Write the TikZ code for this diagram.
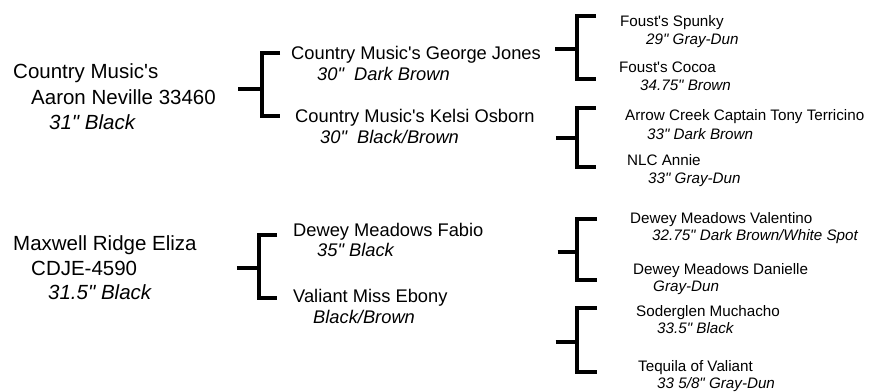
\documentclass[tikz,border=0pt]{standalone}
\usepackage{fontspec}
\setmainfont{Liberation Sans}[Ligatures=TeXOff]
\usepackage{tikz}

\begin{document}
\begin{tikzpicture}[x=1pt, y=-1pt, line join=miter]

\tikzstyle{bigname} = [anchor=west, inner sep=0pt,
                       font=\fontsize{20.5}{24}\selectfont,
                       text height=14.7pt, text depth=0pt]
\tikzstyle{bigcol}  = [bigname, font=\fontsize{20.5}{24}\selectfont\itshape]
\tikzstyle{midname} = [anchor=west, inner sep=0pt,
                       font=\fontsize{18.3}{21}\selectfont,
                       text height=13.1pt, text depth=0pt]
\tikzstyle{midcol}  = [midname, font=\fontsize{18.3}{21}\selectfont\itshape]
\tikzstyle{smname}  = [anchor=west, inner sep=0pt,
                       font=\fontsize{15.2}{18}\selectfont,
                       text height=10.9pt, text depth=0pt]
\tikzstyle{smcol}   = [smname, font=\fontsize{15.2}{18}\selectfont\itshape]
\tikzstyle{bracket} = [line width=3.5pt]

\useasboundingbox (0,0) rectangle (877,391);

% ── Left column: the two horses ───────────────────────
\node[bigname] (aaron1)   at (13,71)  {Country Music's};
\node[bigname] (aaron)    at (31,97)  {Aaron Neville 33460};
\node[bigcol]  (aaronc)   at (49,122) {31" Black};

\node[bigname] (maxwell)  at (13,243) {Maxwell Ridge Eliza};
\node[bigname] (maxwell2) at (31,268) {CDJE-4590};
\node[bigcol]  (maxwellc) at (48,292) {31.5" Black};

% ── Middle column: parents ────────────────────────────
\node[midname] (george)  at (291,53)  {Country Music's George Jones};
\node[midcol]  (georgec) at (317,74)  {30"\ \ Dark Brown};
\node[midname] (kelsi)   at (295,116) {Country Music's Kelsi Osborn};
\node[midcol]  (kelsic)  at (320,137) {30"\ \ Black/Brown};

\node[midname] (fabio)   at (293,230) {Dewey Meadows Fabio};
\node[midcol]  (fabioc)  at (317,250) {35" Black};
\node[midname] (ebony)   at (293,296) {Valiant Miss Ebony};
\node[midcol]  (ebonyc)  at (313,317) {Black/Brown};

% ── Right column: grandparents ────────────────────────
\node[smname] (spunky)     at (620,21)  {Foust's Spunky};
\node[smcol]  (spunkyc)    at (646,39)  {29" Gray-Dun};
\node[smname] (cocoa)      at (619,67)  {Foust's Cocoa};
\node[smcol]  (cocoac)     at (640,85)  {34.75" Brown};
\node[smname] (arrow)      at (625,115) {Arrow Creek Captain Tony Terricino};
\node[smcol]  (arrowc)     at (647,134) {33" Dark Brown};
\node[smname] (annie)      at (627,160) {NLC Annie};
\node[smcol]  (anniec)     at (648,178) {33" Gray-Dun};

\node[smname] (valentino)  at (630,218) {Dewey Meadows Valentino};
\node[smcol]  (valentinoc) at (652,235) {32.75" Dark Brown/White Spot};
\node[smname] (danielle)   at (633,269) {Dewey Meadows Danielle};
\node[smcol]  (daniellec)  at (653,286) {Gray-Dun};
\node[smname] (soderglen)  at (636,311) {Soderglen Muchacho};
\node[smcol]  (soderglenc) at (657,328) {33.5" Black};
\node[smname] (tequila)    at (638,366) {Tequila of Valiant};
\node[smcol]  (tequilac)   at (657,383) {33 5/8" Gray-Dun};

% ── Brackets: horse -> sire and dam ───────────────────
\draw[bracket] ([xshift=-11pt]george.west) -- ++(-18,0) |- ([xshift=-15pt]kelsi.west);
\draw[bracket] (aaron.east) ++(22pt,8pt) -- ++(24,0);

\draw[bracket] ([xshift=-16pt,yshift=-5pt]fabio.west) -- ++(-18,0) |- ([xshift=-16pt,yshift=-2pt]ebony.west);
\draw[bracket] (maxwell.east) ++(40pt,-25pt) -- ++(22,0);

\draw[bracket] ([xshift=-24pt,yshift=5pt]spunky.west) -- ++(-19,0) |- ([xshift=-23pt,yshift=-12pt]cocoa.west);
\draw[bracket] (george.east) ++(14pt,4pt) -- ++(22,0);

\draw[bracket] ([xshift=-29pt,yshift=7pt]arrow.west) -- ++(-19,0) |- ([xshift=-31pt,yshift=-7pt]annie.west);
\draw[bracket] (kelsi.east) ++(21pt,-22pt) -- ++(22,0);

\draw[bracket] ([xshift=-33pt,yshift=-1pt]valentino.west) -- ++(-20,0) |- ([xshift=-36pt,yshift=-11pt]danielle.west);
\draw[bracket] (fabio.east) ++(74pt,-22pt) -- ++(20,0);

\draw[bracket] ([xshift=-39pt,yshift=3pt]soderglen.west) -- ++(-20,0) |- ([xshift=-41pt,yshift=-6pt]tequila.west);
\draw[bracket] (ebony.east) ++(108pt,-46pt) -- ++(20,0);

\end{tikzpicture}
\end{document}
